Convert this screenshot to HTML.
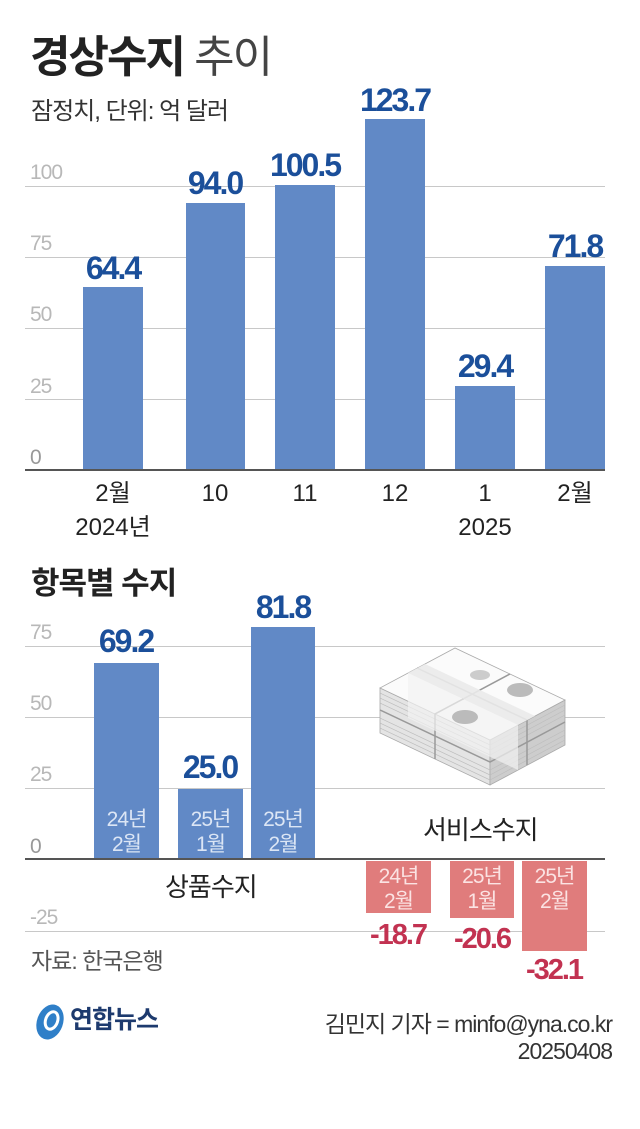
<!DOCTYPE html>
<html><head><meta charset="utf-8"><style>
body{margin:0;width:640px;height:1129px;background:#fff;position:relative;overflow:hidden;font-family:"Liberation Sans","Noto Sans CJK KR",sans-serif;}
.a{position:absolute;line-height:1;white-space:nowrap;}
.g{position:absolute;height:1px;background:#c8c8c8;left:25px;width:580px;}
.yl{position:absolute;color:#b8b8b8;font-size:21px;left:30px;line-height:1;letter-spacing:-1px;}
.b{position:absolute;background:#6189c6;}
.r{position:absolute;background:#e07c7c;}
.v{position:absolute;color:#1b4f9a;font-weight:bold;font-size:32px;line-height:1;text-align:center;width:120px;letter-spacing:-2px;}
.rv{position:absolute;color:#c23251;font-weight:bold;font-size:29px;line-height:1;text-align:center;width:120px;letter-spacing:-2px;}
.x{position:absolute;font-size:24px;color:#222;text-align:center;width:120px;line-height:1;}
.in{position:absolute;text-align:center;font-size:21px;line-height:25px;letter-spacing:-1px;}
</style></head><body>
<div class="a" style="left:30px;top:36px;font-size:44px;font-weight:bold;color:#222;letter-spacing:-2px">경상수지<span style="font-weight:normal;color:#444"> 추이</span></div>
<div class="a" style="left:31px;top:100px;font-size:24px;color:#333;letter-spacing:-1px">잠정치, 단위: 억 달러</div>

<div class="g" style="top:186px"></div><div class="yl" style="top:162px">100</div>
<div class="g" style="top:257px"></div><div class="yl" style="top:233px">75</div>
<div class="g" style="top:328px"></div><div class="yl" style="top:304px">50</div>
<div class="g" style="top:399px"></div><div class="yl" style="top:376px">25</div>
<div class="yl" style="top:447px;color:#999">0</div>
<div class="a" style="left:25px;width:580px;top:469px;height:2px;background:#555"></div>

<div class="b" style="left:83px;width:60px;top:287px;height:182px"></div>
<div class="b" style="left:186px;width:59px;top:203px;height:266px"></div>
<div class="b" style="left:275px;width:60px;top:185px;height:284px"></div>
<div class="b" style="left:365px;width:60px;top:119px;height:350px"></div>
<div class="b" style="left:455px;width:60px;top:386px;height:83px"></div>
<div class="b" style="left:545px;width:60px;top:266px;height:203px"></div>

<div class="v" style="left:53px;top:252px">64.4</div>
<div class="v" style="left:155px;top:167px">94.0</div>
<div class="v" style="left:245px;top:149px">100.5</div>
<div class="v" style="left:335px;top:84px">123.7</div>
<div class="v" style="left:425px;top:350px">29.4</div>
<div class="v" style="left:515px;top:230px">71.8</div>

<div class="x" style="left:53px;top:482px">2월</div>
<div class="x" style="left:155px;top:482px">10</div>
<div class="x" style="left:245px;top:482px">11</div>
<div class="x" style="left:335px;top:482px">12</div>
<div class="x" style="left:425px;top:482px">1</div>
<div class="x" style="left:515px;top:482px">2월</div>
<div class="x" style="left:53px;top:516px">2024년</div>
<div class="x" style="left:425px;top:516px">2025</div>

<div class="a" style="left:31px;top:568px;font-size:31px;font-weight:bold;color:#222;letter-spacing:-1px">항목별 수지</div>

<div class="g" style="top:646px"></div><div class="yl" style="top:622px">75</div>
<div class="g" style="top:717px"></div><div class="yl" style="top:693px">50</div>
<div class="g" style="top:788px"></div><div class="yl" style="top:764px">25</div>
<div class="g" style="top:931px"></div><div class="yl" style="top:907px">-25</div>
<div class="yl" style="top:836px;color:#999">0</div>

<svg class="a" style="left:370px;top:625px" width="210" height="170" viewBox="0 0 210 170">
<g stroke="#aaa" stroke-width="0.8">
<polygon points="10,63 120,115 120,160 10,108" fill="#e4e4e4"/>
<polygon points="120,115 195,75 195,120 120,160" fill="#cdcdcd"/>
<polygon points="10,63 85,23 195,75 120,115" fill="#fbfbfb"/>
</g>
<g stroke="#bdbdbd" stroke-width="0.7" fill="none">
<path d="M10,68 L120,120 L195,80 M10,73 L120,125 L195,85 M10,78 L120,130 L195,90 M10,93 L120,145 L195,105 M10,98 L120,150 L195,110 M10,103 L120,155 L195,115"/>
</g>
<g stroke="#999" stroke-width="1.5" fill="none">
<path d="M10,85 L120,137 L195,97"/>
<path d="M47,43 L157,95 L157,140"/>
<path d="M140,49 L65,89 L65,134"/>
</g>
<polygon points="38,48 55,39 165,91 148,100" fill="#eaeaea" opacity="0.9"/>
<polygon points="38,48 148,100 148,145 38,93" fill="#f2f2f2" opacity="0.7"/>
<ellipse cx="95" cy="92" rx="13" ry="7" fill="#bbb"/>
<ellipse cx="150" cy="65" rx="13" ry="7" fill="#bbb"/>
<ellipse cx="110" cy="50" rx="10" ry="5" fill="#ccc"/>
</svg>

<div class="b" style="left:94px;width:65px;top:663px;height:196px"></div>
<div class="b" style="left:178px;width:65px;top:789px;height:70px"></div>
<div class="b" style="left:251px;width:64px;top:627px;height:232px"></div>
<div class="v" style="left:66px;top:625px">69.2</div>
<div class="v" style="left:150px;top:751px">25.0</div>
<div class="v" style="left:223px;top:591px">81.8</div>
<div class="in" style="left:94px;width:65px;top:807px;color:#dce6f5">24년<br>2월</div>
<div class="in" style="left:178px;width:65px;top:807px;color:#dce6f5">25년<br>1월</div>
<div class="in" style="left:251px;width:64px;top:807px;color:#dce6f5">25년<br>2월</div>

<div class="r" style="left:366px;width:65px;top:861px;height:52px"></div>
<div class="r" style="left:450px;width:64px;top:861px;height:57px"></div>
<div class="r" style="left:522px;width:65px;top:861px;height:90px"></div>
<div class="in" style="left:366px;width:65px;top:864px;color:#fbe3e3">24년<br>2월</div>
<div class="in" style="left:450px;width:64px;top:864px;color:#fbe3e3">25년<br>1월</div>
<div class="in" style="left:522px;width:65px;top:864px;color:#fbe3e3">25년<br>2월</div>
<div class="rv" style="left:338px;top:921px">-18.7</div>
<div class="rv" style="left:422px;top:925px">-20.6</div>
<div class="rv" style="left:494px;top:956px">-32.1</div>

<div class="a" style="left:25px;width:580px;top:858px;height:2px;background:#555"></div>
<div class="a" style="left:165px;top:874px;font-size:26px;color:#222;letter-spacing:-1px">상품수지</div>
<div class="a" style="left:423px;top:817px;font-size:26px;color:#222;letter-spacing:-1px">서비스수지</div>

<div class="a" style="left:31px;top:950px;font-size:23px;color:#555;letter-spacing:-1px">자료: 한국은행</div>

<svg class="a" style="left:34px;top:1002px" width="32" height="40" viewBox="0 0 32 40">
<ellipse cx="16" cy="20" rx="13" ry="18" fill="#2f7fc8" transform="rotate(20 16 20)"/>
<ellipse cx="17" cy="18" rx="6" ry="9" fill="none" stroke="#fff" stroke-width="3" transform="rotate(20 16 20)"/>
</svg>
<div class="a" style="left:70px;top:1008px;font-size:25px;font-weight:bold;color:#1d3a6e;letter-spacing:-1px">연합뉴스</div>
<div class="a" style="right:28px;top:1013px;font-size:23px;color:#333;letter-spacing:-1px">김민지 기자 = minfo@yna.co.kr</div>
<div class="a" style="right:28px;top:1040px;font-size:23px;color:#333;letter-spacing:-1px">20250408</div>
</body></html>
